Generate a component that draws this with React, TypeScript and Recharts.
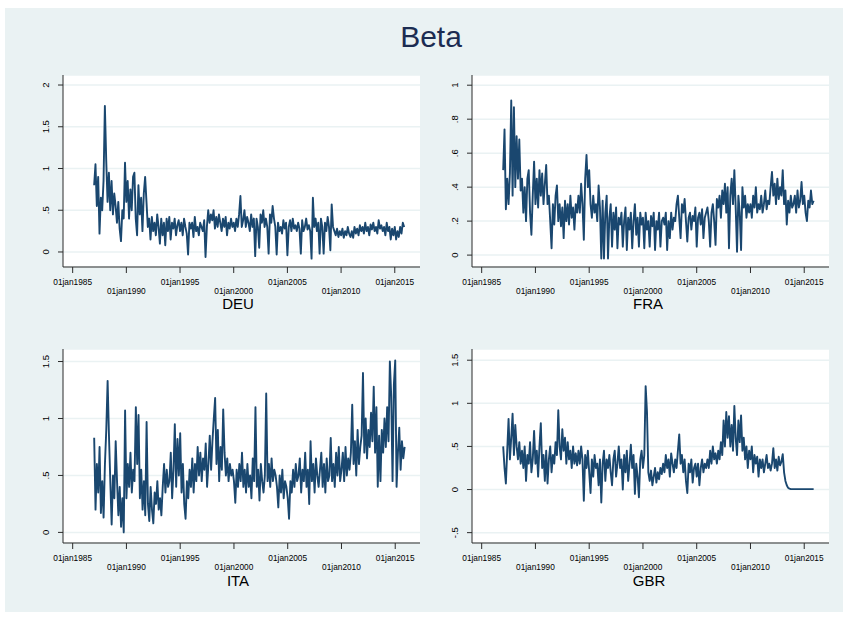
import { LineChart, Line, XAxis, YAxis, CartesianGrid } from "recharts";

// weekly betas thinned to 8 readings a year, first reading at 1987.0
const START_YEAR = 1987;
const PER_YEAR = 8;

const yearTicks = [1985, 1990, 1995, 2000, 2005, 2010, 2015];

const deuTicks = [0, 0.5, 1, 1.5, 2];
const fraTicks = [0, 0.2, 0.4, 0.6, 0.8, 1];
const itaTicks = [0, 0.5, 1, 1.5];
const gbrTicks = [-0.5, 0, 0.5, 1, 1.5];

const deuBeta = [
  0.8, 1.05, 0.55, 0.9, 0.22, 0.65, 0.5, 0.85,
  1.75, 1.1, 0.6, 0.95, 0.5, 0.85, 0.45, 0.7,
  0.55, 0.35, 0.6, 0.28, 0.13, 0.5, 0.4, 1.07,
  0.6, 0.85, 0.4, 0.75, 0.5, 0.9, 0.95, 0.4,
  0.2, 0.8, 0.45, 0.65, 0.25, 0.7, 0.9, 0.6,
  0.3, 0.4, 0.15, 0.42, 0.25, 0.35, 0.2, 0.45,
  0.3, 0.1, 0.4, 0.2, 0.35, 0.08, 0.4, 0.25,
  0.42, 0.15, 0.35, 0.28, 0.4, 0.2, 0.32, 0.38,
  0.25, 0.35, 0.2, 0.4, 0.3, 0.22, -0.03, 0.35,
  0.28, 0.35, 0.18, 0.42, 0.25, 0.3, 0.2, 0.35,
  0.3, 0.25, 0.38, -0.06, 0.3, 0.5, 0.35, 0.45,
  0.38, 0.5, 0.28, 0.42, 0.3, 0.45, 0.35, 0.25,
  0.4, 0.3, 0.42, 0.2, 0.35, 0.28, 0.4, 0.3,
  0.35, 0.25, 0.4, 0.3, 0.45, 0.67, 0.3, 0.38,
  0.5, 0.3, 0.42, 0.35, 0.25, 0.45, 0.3, 0.4,
  -0.05, 0.4, 0.3, 0.05, 0.45, 0.35, 0.5, 0.3,
  0.4, 0.3, -0.02, 0.45, 0.35, 0.55, 0.4, 0.3,
  -0.03, 0.35, 0.25, 0.3, 0.22, 0.38, 0.28, 0.35,
  -0.04, 0.3, 0.38, 0.25, 0.4, 0.28, 0.32, 0.25,
  0.35, 0.28, -0.02, 0.38, 0.25, 0.3, 0.4, 0.27,
  0.32, 0.25, -0.08, 0.65, 0.3, 0.4, 0.25, 0.35,
  -0.02, 0.4, 0.3, -0.02, 0.35, 0.25, 0.42, 0.3,
  0.02, 0.57, 0.3, 0.25, 0.2, 0.28, 0.18, 0.25,
  0.2, 0.28, 0.17, 0.25, 0.2, 0.3, 0.22, 0.18,
  0.25, 0.17, 0.3, 0.22, 0.28, 0.2, 0.32, 0.25,
  0.3, 0.22, 0.35, 0.25, 0.3, 0.2, 0.33, 0.27,
  0.35, 0.25, 0.3, 0.22, 0.38, 0.28, 0.32, 0.25,
  0.3, 0.2, 0.35, 0.25, 0.3, 0.15, 0.28, 0.2,
  0.3, 0.15, 0.25, 0.18, 0.3, 0.22, 0.35, 0.3,
];

const fraBeta = [
  0.5, 0.74, 0.27, 0.45, 0.3, 0.48, 0.91, 0.35,
  0.87, 0.4, 0.7, 0.45, 0.68, 0.38, 0.45, 0.25,
  0.4, 0.2, 0.45, 0.5, 0.25, 0.12, 0.35, 0.55,
  0.3, 0.45, 0.28, 0.5, 0.35, 0.48, 0.3, 0.42,
  0.53, 0.3, 0.35, 0.2, 0.04, 0.3, 0.18, 0.35,
  0.41, 0.2, 0.3, 0.17, 0.28, 0.1, 0.32, 0.2,
  0.3, 0.18, 0.35, 0.22, 0.28, 0.15, 0.3, 0.25,
  0.35, 0.25, 0.42, 0.3, 0.09, 0.45, 0.59, 0.4,
  0.5, 0.3, 0.22, 0.35, 0.25, 0.3, 0.2, 0.41,
  0.28, -0.02, 0.32, -0.02, 0.25, 0.35, -0.02, 0.22,
  0.3, 0.05, 0.25, 0.15, 0.28, 0.04, 0.22, 0.18,
  0.25, 0.05, 0.2, 0.28, 0.03, 0.22, 0.15, 0.25,
  0.04, 0.2, 0.3, 0.12, 0.22, 0.05, 0.25, 0.18,
  0.22, 0.04, 0.25, 0.15, 0.2, 0.05, 0.23, 0.17,
  0.25, 0.03, 0.2, 0.15, 0.25, 0.05, 0.2, 0.22,
  0.18, 0.25, 0.03, 0.2, 0.1, 0.25, 0.15, 0.22,
  0.2, 0.3, 0.35, 0.22, 0.1, 0.3, 0.25, 0.33,
  0.2, 0.08, 0.22, 0.25, 0.15, 0.23, 0.2, 0.28,
  0.05, 0.22, 0.25, 0.18, 0.27, 0.1, 0.22, 0.25,
  0.28, 0.2, 0.05, 0.25, 0.3, 0.2, 0.06, 0.33,
  0.28, 0.35, 0.22, 0.38, 0.3, 0.42, 0.25, 0.4,
  0.04, 0.35, 0.45, 0.3, 0.5, 0.28, 0.02, 0.35,
  0.25, 0.03, 0.4, 0.28, 0.35, 0.22, 0.3, 0.25,
  0.3, 0.22, 0.35, 0.28, 0.4, 0.25, 0.3, 0.27,
  0.35, 0.25, 0.3, 0.38, 0.27, 0.32, 0.3, 0.4,
  0.49, 0.35, 0.42, 0.3, 0.45, 0.33, 0.4, 0.35,
  0.5, 0.3, 0.38, 0.18, 0.32, 0.25, 0.35, 0.28,
  0.3, 0.35, 0.25, 0.38, 0.28, 0.32, 0.43, 0.3,
  0.35, 0.25, 0.2, 0.32, 0.28, 0.38, 0.3, 0.32,
];

const itaBeta = [
  0.83, 0.2, 0.6, 0.35, 0.75, 0.17, 0.45, 0.13,
  0.6, 0.9, 1.33, 0.85, 0.45, 0.07, 0.5, 0.3,
  0.8, 0.45, 0.15, 0.4, 0.05, 0.3, 0.0, 1.07,
  0.3, 0.6, 0.4, 0.7, 0.35, 0.55, 0.45, 1.1,
  0.6, 1.03, 0.3, 0.55, 0.2, 0.45, 0.15, 0.97,
  0.25, 0.1, 0.4, 0.2, 0.08, 0.35, 0.25, 0.45,
  0.2, 0.3, 0.15, 0.4, 0.6, 0.35, 0.55, 0.4,
  0.45, 0.7, 0.3, 0.55, 0.95, 0.4, 0.82, 0.5,
  0.87, 0.35, 0.6, 0.25, 0.12, 0.45, 0.3, 0.55,
  0.4, 0.65, 0.35, 0.6, 0.45, 0.75, 0.5, 0.7,
  0.45, 0.65, 0.55, 0.78, 0.4, 0.6, 0.85, 0.55,
  0.8, 1.0, 1.18, 0.6, 0.9, 0.45, 0.75, 0.55,
  1.08, 0.7, 0.5, 0.65, 0.45, 0.6, 0.5, 0.55,
  0.45, 0.26, 0.55, 0.4, 0.6, 0.45, 0.7, 0.4,
  0.55, 0.35, 0.6, 0.4, 0.5, 0.3, 0.65, 0.45,
  1.1, 0.4, 0.55, 0.28, 0.6, 0.45, 0.35, 0.5,
  1.22, 0.45, 0.6, 0.4, 0.65, 0.45, 0.55, 0.5,
  0.4, 0.22, 0.5, 0.35, 0.55, 0.3, 0.45, 0.4,
  0.3, 0.12, 0.45, 0.35, 0.55, 0.4, 0.6, 0.45,
  0.5, 0.65, 0.35, 0.55, 0.45, 0.7, 0.4, 0.55,
  0.25, 0.8, 0.45, 0.6, 0.35, 0.65, 0.5, 0.4,
  0.55, 0.7, 0.4, 0.6, 0.35, 0.65, 0.45, 0.5,
  0.83, 0.45, 0.6, 0.4, 0.7, 0.5, 0.75, 0.45,
  0.55, 0.7, 0.45, 0.75, 0.5, 0.65, 0.55, 0.7,
  1.12, 0.6, 0.8, 0.5, 0.9, 0.6, 0.75, 0.85,
  1.4, 0.7, 1.0, 0.65, 0.9, 0.75, 1.05, 0.8,
  1.28, 0.7, 1.1, 0.4, 0.85, 0.45, 0.9, 0.7,
  1.0, 0.75, 1.1, 0.8, 1.5, 1.2, 0.45, 1.3,
  1.51, 0.4, 0.7, 0.92, 0.55, 0.8, 0.65, 0.75,
];

const gbrBeta = [
  0.5, 0.25, 0.07, 0.45, 0.82, 0.35, 0.6, 0.88,
  0.4, 0.75, 0.5, 0.35, 0.55, 0.3, 0.45, 0.25,
  0.5, 0.1, 0.4, 0.3, 0.55, 0.2, 0.35, 0.68,
  0.3, 0.45, 0.15, 0.5, 0.77, 0.25, 0.4, 0.1,
  0.45, 0.07, 0.35, 0.5, 0.2, 0.4, 0.3, 0.55,
  0.4, 0.92, 0.5, 0.35, 0.7, 0.45, 0.6, 0.3,
  0.55, 0.35, 0.45, 0.25, 0.5, 0.3, 0.42, 0.28,
  0.45, 0.3, 0.5, 0.35, -0.13, 0.4, 0.25, 0.45,
  0.2, -0.04, 0.35, 0.15, 0.4, 0.25, 0.3, 0.05,
  0.35, -0.15, 0.3, 0.45, 0.1, 0.35, 0.25, 0.4,
  0.2, 0.05, 0.35, 0.45, 0.15, 0.3, 0.5, 0.25,
  0.35, 0.0, 0.4, 0.2, 0.45, 0.1, 0.3, 0.52,
  0.25, 0.4, -0.05, 0.3, 0.15, -0.09, 0.35, 0.45,
  0.25, 0.4, 1.2, 0.9, 0.2, 0.1, 0.22, 0.05,
  0.15, 0.25, 0.08, 0.2, 0.12, 0.25, 0.18, 0.3,
  0.2, 0.4, 0.25, 0.35, 0.15, 0.42, 0.3, 0.2,
  0.35, 0.25, 0.45, 0.64, 0.3, 0.4, 0.2, 0.35,
  0.1, -0.04, 0.3, 0.2, 0.35, 0.08, 0.25, 0.3,
  0.15, 0.3, 0.05, 0.25, 0.35, 0.2, 0.3, 0.25,
  0.35, 0.25, 0.45, 0.3, 0.5, 0.35, 0.42, 0.3,
  0.45, 0.35, 0.55, 0.4, 0.8, 0.5, 0.9, 0.6,
  0.85, 0.5, 0.75, 0.45, 0.97, 0.6, 0.4, 0.8,
  0.55, 0.86, 0.45, 0.6, 0.35, 0.5, 0.25, 0.45,
  0.35, 0.5, 0.2, 0.4, 0.3, 0.38, 0.15, 0.35,
  0.25, 0.35, 0.2, 0.3, 0.4, 0.25, 0.3, 0.22,
  0.3, 0.48, 0.25, 0.35, 0.22, 0.38, 0.28, 0.32,
  0.41, 0.2, 0.1, 0.05, 0.02, 0.01, 0.005, 0.005,
  0.005, 0.005, 0.005, 0.005, 0.005, 0.005, 0.005, 0.005,
  0.005, 0.005, 0.005, 0.005, 0.005, 0.005, 0.005, 0.005,
];

const FONT = "'Liberation Sans', Arial, Helvetica, sans-serif";
const NAVY = "#1a476f";
const AXIS = "#2b2b2b";
const BG = "#eaf2f3";

const toRows = (vals: number[]) => vals.map((v, i) => ({ t: START_YEAR + i / PER_YEAR, v }));

// stata drops the leading zero: .5, -.5
const fmtY = (v: number) => (v === 0 ? "0" : String(v).replace(/^(-?)0\./, "$1."));

function XTick({ x, y, payload }: any) {
  const lower = ((payload.value - 1985) / 5) % 2 === 1;
  return (
    <text x={x} y={y + (lower ? 21 : 12)} textAnchor="middle" fontSize={8.3} fill="#000" fontFamily={FONT}>
      {`01jan${payload.value}`}
    </text>
  );
}

function YTick({ x, y, payload }: any) {
  return (
    <text
      transform={`translate(${x - 9},${y}) rotate(-90)`}
      textAnchor="middle"
      fontSize={9.5}
      fill="#000"
      fontFamily={FONT}
    >
      {fmtY(payload.value)}
    </text>
  );
}

interface PanelProps {
  left: number;
  top: number;
  w: number;
  h: number;
  values: number[];
  domain: [number, number];
  ticks: number[];
}

function Panel({ left, top, w, h, values, domain, ticks }: PanelProps) {
  const data = toRows(values);
  return (
    <div style={{ position: "absolute", left: left - 40, top }}>
      <LineChart width={w + 40} height={h + 40} data={data} margin={{ top: 0, right: 0, bottom: 0, left: 0 }}>
        <CartesianGrid vertical={false} fill="#fff" stroke={BG} strokeWidth={1.5} />
        <XAxis
          type="number"
          dataKey="t"
          domain={[1984.1, 2017.35]}
          ticks={yearTicks}
          interval={0}
          allowDataOverflow
          height={40}
          tickSize={6}
          tickMargin={0}
          axisLine={{ stroke: AXIS }}
          tickLine={{ stroke: AXIS }}
          tick={(p: any) => <XTick {...p} />}
        />
        <YAxis
          type="number"
          domain={domain}
          ticks={ticks}
          interval={0}
          allowDataOverflow
          width={40}
          tickSize={5}
          tickMargin={0}
          axisLine={{ stroke: AXIS }}
          tickLine={{ stroke: AXIS }}
          tick={(p: any) => <YTick {...p} />}
        />
        <Line
          type="linear"
          dataKey="v"
          stroke={NAVY}
          strokeWidth={1.9}
          strokeLinejoin="round"
          dot={false}
          isAnimationActive={false}
        />
      </LineChart>
    </div>
  );
}

export default function App() {
  return (
    <div style={{ position: "absolute", left: 0, top: 0, width: 843, height: 617, background: "#fff", overflow: "hidden" }}>
      <svg width={843} height={617} style={{ position: "absolute", left: 0, top: 0 }}>
        <rect x={5} y={8} width={838} height={604} fill={BG} />
        <text x={431} y={47} textAnchor="middle" fontSize={30} fill="#1c2c52" fontFamily={FONT}>Beta</text>
        <text x={238} y={309} textAnchor="middle" fontSize={15} fill="#000" fontFamily={FONT}>DEU</text>
        <text x={648} y={309} textAnchor="middle" fontSize={15} fill="#000" fontFamily={FONT}>FRA</text>
        <text x={238} y={586} textAnchor="middle" fontSize={15} fill="#000" fontFamily={FONT}>ITA</text>
        <text x={649} y={586} textAnchor="middle" fontSize={15} fill="#000" fontFamily={FONT}>GBR</text>
      </svg>

      {/* top row */}
      <Panel left={63} top={75} w={357} h={192} values={deuBeta} domain={[-0.18, 2.12]} ticks={deuTicks} />
      <Panel left={471.5} top={75} w={357.5} h={192} values={fraBeta} domain={[-0.07, 1.06]} ticks={fraTicks} />

      {/* bottom row */}
      <Panel left={62.5} top={349} w={357.5} h={194} values={itaBeta} domain={[-0.093, 1.61]} ticks={itaTicks} />
      <Panel left={471.5} top={349} w={357.5} h={194} values={gbrBeta} domain={[-0.62, 1.63]} ticks={gbrTicks} />
    </div>
  );
}
